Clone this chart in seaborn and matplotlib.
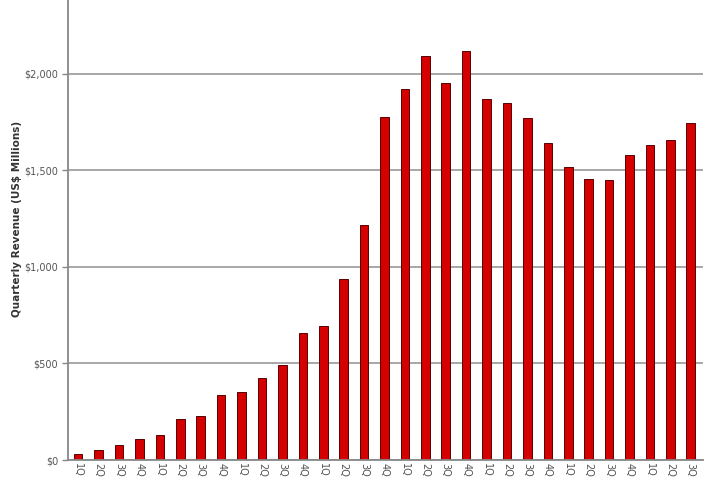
import matplotlib
matplotlib.use("Agg")
import matplotlib.pyplot as plt
import matplotlib.ticker as mticker
import pandas as pd
import seaborn as sns

# quarterly revenue, US$ millions
quarters = ["1Q", "2Q", "3Q", "4Q"] * 7 + ["1Q", "2Q", "3Q"]
revenue = [29, 50, 76, 109, 130, 214, 226, 335, 351, 425, 492, 656, 696, 936, 1218,
           1776, 1922, 2093, 1953, 2121, 1872, 1848, 1771, 1641, 1520, 1456, 1451,
           1579, 1634, 1660, 1746]
yticks = [0, 500, 1000, 1500, 2000]

df = pd.DataFrame({"period": [f"{q}-{i}" for i, q in enumerate(quarters)],
                   "revenue": revenue})

sns.set_style("white")
plt.rcParams["font.family"] = ["DejaVu Sans"]

fig = plt.figure(figsize=(7.2, 4.8), dpi=100)
ax = fig.add_axes([68 / 720, 1 - 460 / 480, 635 / 720, 460 / 480])

ax.grid(axis="y", color="#a0a0a0", linewidth=1.3)
ax.set_axisbelow(True)
sns.barplot(data=df, x="period", y="revenue", color="#d40000", width=0.42,
            edgecolor="#5a0000", linewidth=0.7, saturation=1, ax=ax)

ax.set_xlim(-0.5, 30.6)
ax.set_ylim(0, 2383)
ax.set_yticks(yticks)
ax.yaxis.set_major_formatter(mticker.FuncFormatter(lambda v, p: f"${v:,.0f}"))
ax.set_xticks(range(len(quarters)))
ax.set_xticklabels(quarters, rotation=270, fontsize=7, color="#555555")
ax.set_xticks([i - 0.5 for i in range(len(quarters) + 1)], minor=True)
ax.tick_params(axis="x", which="major", length=0, pad=2)
ax.tick_params(axis="x", which="minor", length=4, color="#888888", width=1)
ax.tick_params(axis="y", length=4, color="#888888", width=1, labelsize=7,
               labelcolor="#555555", pad=3, left=True)

ax.set_xlabel("")
ax.set_ylabel("Quarterly Revenue (US$ Millions)", fontsize=7.5, fontweight="bold",
              color="#333333")
ax.yaxis.set_label_coords(-0.072, 0.524)

for side in ["top", "right"]:
    ax.spines[side].set_visible(False)
for side in ["left", "bottom"]:
    ax.spines[side].set_color("#888888")
    ax.spines[side].set_linewidth(1.3)

fig.savefig("out.png", dpi=100)
